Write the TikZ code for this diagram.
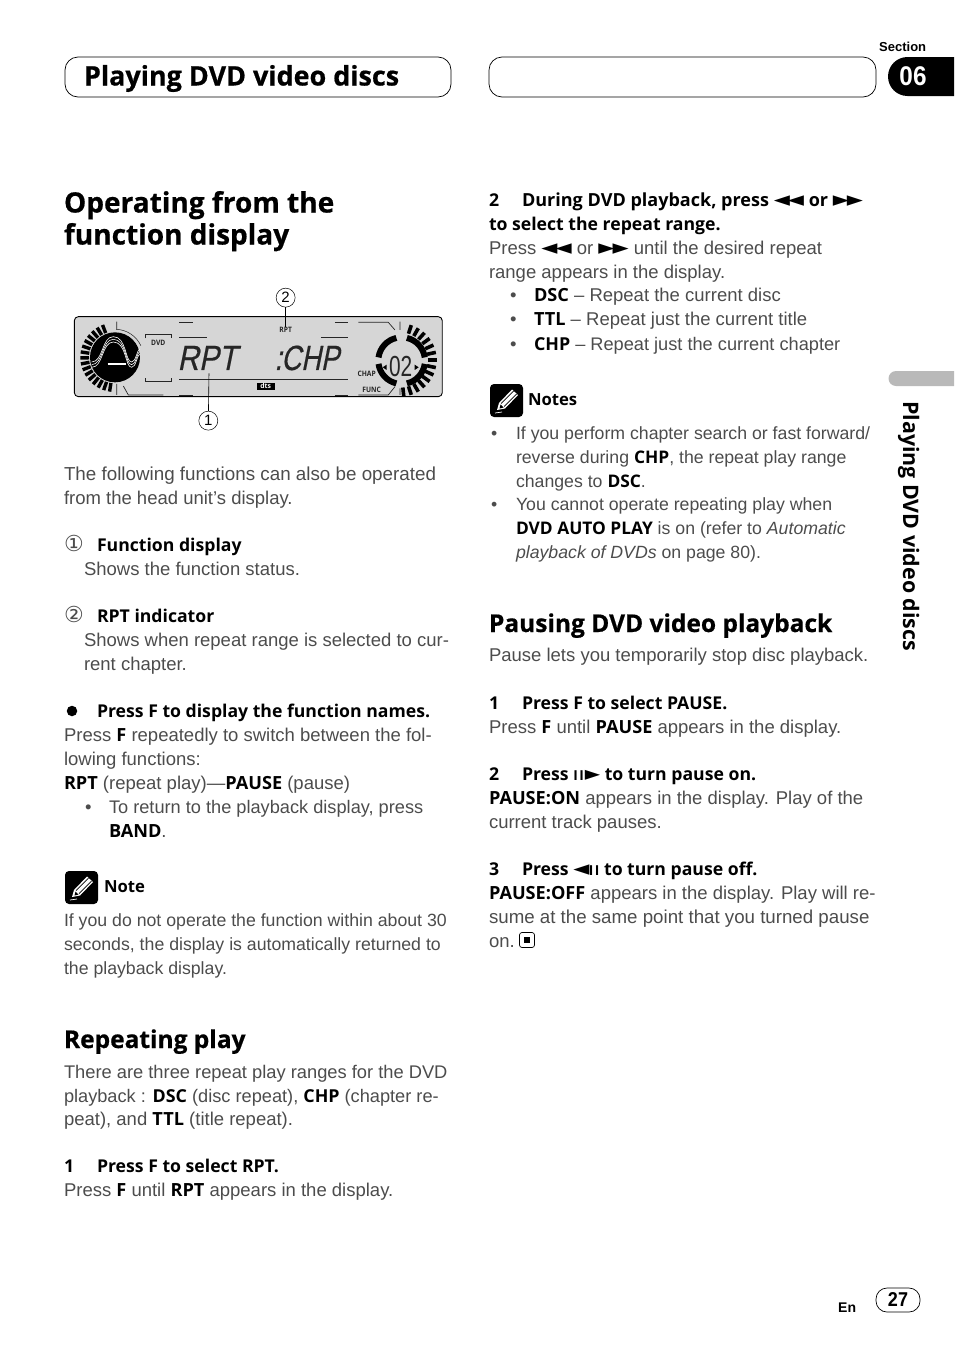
\documentclass[tikz,border=0pt]{standalone}
\usepackage{fontspec}
\setmainfont{Liberation Sans}
\newfontfamily\hb{Open Sans}[Scale=.98]
\newfontfamily\hx{Open Sans}[Scale=.98,BoldFeatures={FakeBold=.6}]
\newfontfamily\sy{DejaVu Sans}
\newfontfamily\lcdf{Liberation Sans}[FakeBold=.5]
\definecolor{bodyc}{gray}{0.3}
\definecolor{lcd}{gray}{0.84}
\definecolor{lcdk}{gray}{0.15}
\newcommand\B[1]{{\hb\bfseries\color{black}#1}}
\newcommand\BT[1]{{\hx\bfseries\color{black}#1}}
\newcommand\BK{\mbox{\sy\color{black}\fontsize{21}{21}\selectfont ◄\kern-2pt◄}}
\newcommand\FW{\mbox{\sy\color{black}\fontsize{21}{21}\selectfont ►\kern-2pt►}}
\newcommand\PP{\mbox{\color{black}\fontsize{14}{14}\selectfont I\kern1.5pt I\kern1pt{\sy\fontsize{20}{20}\selectfont ►}}}
\newcommand\PM{\mbox{\color{black}{\sy\fontsize{21}{21}\selectfont ◄}\kern-.5pt\fontsize{14}{14}\selectfont I\kern1.5pt I}}
\newcommand\Ln[4]{\node[tline] (#1) at (#2,#3) {#4};}
\newcommand\Hd[4]{\node[thead] (#1) at (#2,#3) {\B{#4}};}
\newcommand\noteicon[3]{%
 \begin{scope}[shift={(#2,#3)}]
  \node[iconbox] (#1) at (16.5,16.5) {};
  \fill[white] (7,26) -- (9,19) -- (22,5.5) -- (28,11) -- (15,24.5) -- cycle;
  \fill[black] (9.5,24.5) -- (10.5,20.5) -- (13.5,23.5) -- cycle;
  \draw[black,line width=.7pt] (11,19.5) -- (23.5,7) (14,22.5) -- (26.5,10);
  \draw[white,line width=.7pt] (5,29) -- (12,28);
 \end{scope}}
\tikzset{
 x=1pt,y=-1pt,
 tline/.style={anchor=base west,inner sep=0pt,outer sep=0pt,text=bodyc,font=\fontsize{18.5}{24}\selectfont},
 thead/.style={anchor=base west,inner sep=0pt,outer sep=0pt,text=black,font=\fontsize{18}{24}\selectfont},
 pill/.style={draw=black,line width=.7pt,fill=white,rounded corners=13pt},
 iconbox/.style={fill=black,rounded corners=4pt,minimum size=33pt,inner sep=0pt},
 callout/.style={draw=black,circle,line width=.5pt,inner sep=0pt,minimum size=19pt,text=black,font=\fontsize{15}{15}\selectfont},
 lcdline/.style={draw=lcdk,line width=.7pt},
 lcdlabel/.style={inner sep=0pt,text=lcdk,font=\hb\bfseries\fontsize{7.6}{8}\selectfont,xscale=.9},
 lcdbig/.style={inner sep=0pt,anchor=base west,text=lcdk,font=\lcdf\fontsize{35}{35}\selectfont,xslant=.2,xscale=.85},
}
\begin{document}
\begin{tikzpicture}
\useasboundingbox (0,0) rectangle (954,1352);
% header
\draw[pill] (65,57) rectangle (451,97);
\draw[pill] (489,57) rectangle (876,97);
\node[thead,font=\fontsize{27.5}{30}\selectfont] (title) at (84,85.5) {\BT{Playing DVD video discs}};
\node[anchor=base west,inner sep=0pt,font=\bfseries\fontsize{13}{14}\selectfont] (sec) at (879,51) {Section};
\fill[black] (954,57) -- (907.5,57) arc[start angle=-90,end angle=-270,radius=19.5] -- (954,96) -- cycle;
\node[inner sep=0pt,text=white,font=\bfseries\fontsize{27}{28}\selectfont,xscale=.9] (secn) at (913,76) {06};
% side tab
\fill[gray!55] (954,371) -- (896,371) arc[start angle=-90,end angle=-270,radius=7.5] -- (954,386) -- cycle;
\node[rotate=-90,anchor=base west,inner sep=0pt,font=\hb\bfseries\fontsize{21.8}{22}\selectfont] (side) at (903,401) {Playing DVD video discs};
% left column
\node[thead,font=\fontsize{28.6}{32}\selectfont] (h1a) at (64,212.5) {\BT{Operating from the}};
\node[thead,font=\fontsize{28.6}{32}\selectfont] (h1b) at (64,244.5) {\BT{function display}};
% LCD
\begin{scope}[shift={(60,280)},x=.3333pt,y=-.3333pt]
 \draw[draw=black,line width=.9pt,fill=lcd,rounded corners=4pt] (43,110) rectangle (1147,350);
 \foreach \a in {-111,-121,...,-261} \draw[black,line width=3.4pt] (165,232) ++(\a:78) -- ++(\a:26);
 \foreach \a in {-72,-60,...,84} \draw[black,line width=3.6pt] (1020,240) ++(\a:83) -- ++(\a:27);
 \fill[black] (165,232) circle (75);
 \draw[lcdk,line width=.5pt] (170,148) arc[start angle=-87,end angle=-25,radius=85];
 \foreach \d in {0,8,16} \draw[white,line width=.6pt] (95,246+\d) .. controls (130,246+\d) and (125,170+\d) .. (160,170+\d) .. controls (200,170+\d) and (195,246+\d) .. (215,246+\d) .. controls (228,246+\d) and (230,210+\d) .. (240,207+\d);
 \draw[white,line width=1.1pt] (143,252) -- (197,252);
 \draw[lcdline] (170,125) -- (170,150) (170,312) -- (170,345) (190,318) -- (205,345) -- (310,345);
 \draw[lcdline] (255,175) -- (255,163) -- (335,163) -- (335,175) (255,295) -- (255,305) -- (335,305) -- (335,295);
 \draw[lcdline] (358,127) -- (400,127) (358,172) -- (440,172) (358,345) -- (400,345) (358,297) -- (865,297) (783,172) -- (865,172) (825,127) -- (865,127) (825,345) -- (865,345);
 \draw[lcdline] (895,127) -- (985,127) -- (1005,150) (895,345) -- (985,345) -- (1005,320) (1020,125) -- (1020,150) (1020,325) -- (1020,345);
 \node[lcdlabel] (ldvd) at (295,190) {DVD};
 \node[lcdlabel] (lrpt) at (677,150) {RPT};
 \node[lcdlabel] (lchap) at (920,282) {CHAP};
 \node[lcdlabel] (lfunc) at (935,331) {FUNC};
 \node[fill=black,inner sep=0pt,minimum width=18pt,minimum height=7pt,text=white,font=\hb\bfseries\fontsize{7}{7}\selectfont] (ldts) at (617,319) {dts};
 \node[lcdbig] (lbig1) at (352,270) {RPT};
 \node[lcdbig,xscale=.92] (lbig2) at (643,270) {:\kern-1pt CHP};
 \node[inner sep=0pt,anchor=base west,text=lcdk,font=\fontsize{29}{29}\selectfont,xscale=.72] (lbig3) at (987,290) {02};
 \foreach \s/\e in {-103/-172,-77/-8,8/77,103/172} \draw[black,line width=6pt] (1025,242) ++(\s:70) arc[start angle=\s,end angle=\e,radius=70];
 \fill[black] (968,262) -- (980,254) -- (980,270) -- cycle;
 \fill[black] (1076,262) -- (1064,254) -- (1064,270) -- cycle;
 \node[callout] (c2) at (677,53) {2};
 \node[callout] (c1) at (445,422) {1};
 \coordinate (t1) at (447,280);
 \draw[black,line width=.6pt] (c2) -- (lrpt);
 \draw[black,line width=.6pt] (c1) -- (t1);
\end{scope}
\Ln{a1}{64}{480}{\fontsize{18.8}{24}\selectfont The following functions can also be operated}
\Ln{a2}{64}{504}{from the head unit’s display.}
\Ln{a3}{64}{551}{{\sy\fontsize{22}{22}\selectfont ①}}
\Hd{a4}{97}{551}{Function display}
\Ln{a5}{84}{575}{Shows the function status.}
\Ln{a6}{64}{622}{{\sy\fontsize{22}{22}\selectfont ②}}
\Hd{a7}{97}{622}{RPT indicator}
\Ln{a8}{84}{646}{Shows when repeat range is selected to cur-}
\Ln{a9}{84}{670}{rent chapter.}
\node[circle,fill=black,minimum size=10.5pt,inner sep=0pt] (a10) at (72,711) {};
\Hd{a11}{97}{717}{Press F to display the function names.}
\Ln{a12}{64}{741}{Press \B{F} repeatedly to switch between the fol-}
\Ln{a13}{64}{765}{lowing functions:}
\Ln{a14}{64}{789}{\B{RPT} (repeat play)—\B{PAUSE} (pause)}
\Ln{a15}{85}{813}{•}
\Ln{a16}{109}{813}{\fontsize{18.2}{24}\selectfont To return to the playback display, press}
\Ln{a17}{109}{837}{\B{BAND}.}
\noteicon{n1}{65}{871}
\node[thead,font=\fontsize{17}{20}\selectfont] (a18) at (104,892) {\B{Note}};
\Ln{a19}{64}{926}{\fontsize{17.7}{24}\selectfont If you do not operate the function within about 30}
\Ln{a20}{64}{950}{\fontsize{17.7}{24}\selectfont seconds, the display is automatically returned to}
\Ln{a21}{64}{974}{\fontsize{17.7}{24}\selectfont the playback display.}
\node[thead,font=\fontsize{25}{26}\selectfont] (a22) at (64,1048) {\BT{Repeating play}};
\Ln{a23}{64}{1078}{\fontsize{18.3}{24}\selectfont There are three repeat play ranges for the DVD}
\Ln{a24}{64}{1102}{\fontsize{18.2}{24}\selectfont playback : \B{DSC} (disc repeat), \B{CHP} (chapter re-}
\Ln{a25}{64}{1125}{peat), and \B{TTL} (title repeat).}
\Hd{a26}{64}{1172}{1}
\Hd{a27}{97}{1172}{Press F to select RPT.}
\Ln{a28}{64}{1196}{Press \B{F} until \B{RPT} appears in the display.}
% right column
\Hd{b1}{489}{206}{2}
\node[thead,font=\fontsize{18.4}{24}\selectfont] (b2) at (522,206) {\B{During DVD playback, press \BK{} or \FW}};
\Hd{b3}{489}{230}{to select the repeat range.}
\Ln{b4}{489}{254}{Press \BK{} or \FW{} until the desired repeat}
\Ln{b5}{489}{278}{range appears in the display.}
\Ln{b6}{510}{301}{•}
\Ln{b7}{534}{301}{\B{DSC} – Repeat the current disc}
\Ln{b8}{510}{325}{•}
\Ln{b9}{534}{325}{\B{TTL} – Repeat just the current title}
\Ln{b10}{510}{350}{•}
\Ln{b11}{534}{350}{\fontsize{18.2}{24}\selectfont\B{CHP} – Repeat just the current chapter}
\noteicon{n2}{490}{384}
\node[thead,font=\fontsize{17}{20}\selectfont] (b12) at (528,405) {\B{Notes}};
\Ln{b13}{491}{439}{\fontsize{17.7}{24}\selectfont •}
\Ln{b14}{516}{439}{\fontsize{17.7}{24}\selectfont If you perform chapter search or fast forward/}
\Ln{b15}{516}{463}{\fontsize{17.7}{24}\selectfont reverse during \B{CHP}, the repeat play range}
\Ln{b16}{516}{487}{\fontsize{17.7}{24}\selectfont changes to \B{DSC}.}
\Ln{b17}{491}{510}{\fontsize{17.7}{24}\selectfont •}
\Ln{b18}{516}{510}{\fontsize{17.7}{24}\selectfont You cannot operate repeating play when}
\Ln{b19}{516}{534}{\fontsize{17.7}{24}\selectfont \B{DVD AUTO PLAY} is on (refer to \textit{Automatic}}
\Ln{b20}{516}{558}{\fontsize{17.7}{24}\selectfont \textit{playback of DVDs} on page 80).}
\node[thead,font=\fontsize{25}{26}\selectfont] (b21) at (489,632) {\BT{Pausing DVD video playback}};
\Ln{b22}{489}{661}{Pause lets you temporarily stop disc playback.}
\Hd{b23}{489}{709}{1}
\Hd{b24}{522}{709}{Press F to select PAUSE.}
\Ln{b25}{489}{733}{Press \B{F} until \B{PAUSE} appears in the display.}
\Hd{b26}{489}{780}{2}
\Hd{b27}{522}{780}{Press \PP{} to turn pause on.}
\Ln{b28}{489}{804}{\B{PAUSE:ON} appears in the display. Play of the}
\Ln{b29}{489}{828}{current track pauses.}
\Hd{b30}{489}{875}{3}
\Hd{b31}{522}{875}{Press \PM{} to turn pause off.}
\Ln{b32}{489}{899}{\B{PAUSE:OFF} appears in the display. Play will re-}
\Ln{b33}{489}{923}{\fontsize{18.7}{24}\selectfont sume at the same point that you turned pause}
\Ln{b34}{489}{947}{on.}
\node[draw=black,line width=.7pt,rounded corners=2.5pt,minimum size=15pt,inner sep=0pt] (stop) at (527,940) {};
\node[fill=black,minimum size=5.5pt,inner sep=0pt] (stopk) at (stop) {};
% footer
\node[anchor=base west,inner sep=0pt,font=\bfseries\fontsize{14}{15}\selectfont] (en) at (838,1312) {En};
\draw[pill,rounded corners=11pt] (876,1288) rectangle (920,1312);
\node[inner sep=0pt,font=\bfseries\fontsize{20}{22}\selectfont,xscale=.9] (pg) at (898,1300) {27};
\end{tikzpicture}
\end{document}
